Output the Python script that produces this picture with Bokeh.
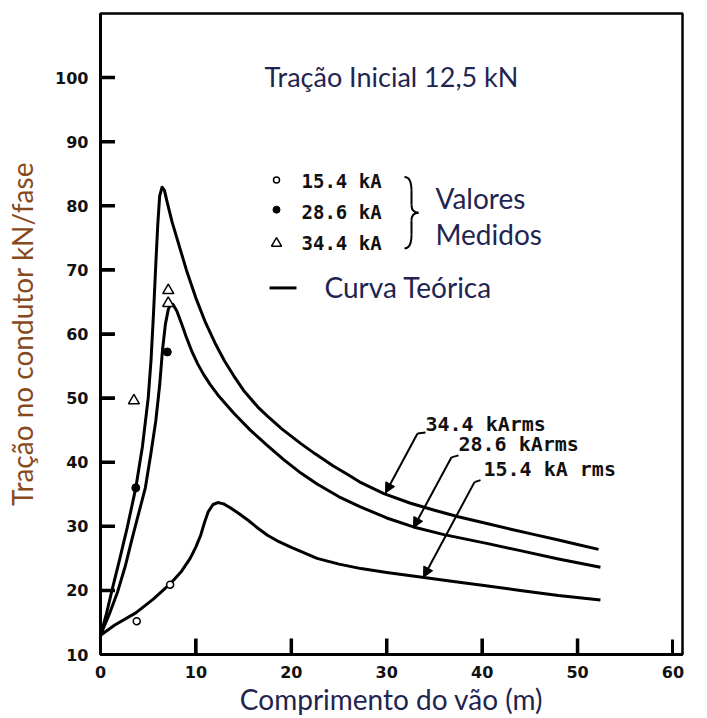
from bokeh.plotting import figure
from bokeh.models import Range1d, FixedTicker, Label, Arrow, NormalHead
from bokeh.embed import file_html
from bokeh.resources import INLINE

# ---- data ----
# theoretical curves: span (m) vs tension (kN/phase)
c344_x = [0, 0.6, 1.2, 2.0, 2.8, 3.7, 4.4, 5.0, 5.3, 5.55, 5.8, 6.0, 6.2, 6.45, 6.7, 7.0, 7.5, 8.0, 9.0, 10.0, 11.0, 12.0, 13.0, 14.0, 15.0, 16.5, 17.5, 19.0, 21.0, 22.5, 24.4, 26.0, 27.3, 29.7, 32.5, 35.0, 37.5, 40.6, 43.0, 45.5, 48.0, 50.0, 52.2]
c344_y = [13, 16.2, 20, 24.8, 29.8, 36, 42.5, 50, 56, 63, 71, 77, 81.5, 82.9, 82.4, 80.5, 77.5, 75, 70, 65.6, 61.8, 58.6, 55.8, 53.4, 51.2, 48.6, 47.2, 45.2, 42.9, 41.3, 39.4, 38.0, 36.8, 35.1, 33.6, 32.5, 31.5, 30.4, 29.55, 28.7, 27.85, 27.15, 26.4]

c286_x = [0, 0.9, 1.8, 2.6, 3.3, 4.0, 4.7, 5.3, 5.8, 6.2, 6.5, 6.8, 7.1, 7.35, 7.6, 8.0, 8.5, 9.0, 9.6, 10.2, 10.8, 11.5, 12.3, 14.0, 15.7, 17.5, 19.2, 21.0, 22.7, 25.0, 27.3, 30.0, 32.8, 36.0, 40.6, 44.0, 48.0, 52.4]
c286_y = [13, 16.2, 19.8, 23.8, 28, 32, 36, 41.5, 46.5, 52, 57.5, 61.5, 63.8, 64.7, 64.6, 63.6, 61.6, 59.5, 57.2, 55.3, 53.7, 52.1, 50.5, 47.6, 45.0, 42.6, 40.4, 38.3, 36.6, 34.6, 33.0, 31.3, 29.9, 28.7, 27.3, 26.2, 24.9, 23.6]

c154_x = [0, 1.5, 3.7, 5.5, 7.3, 8.5, 9.4, 10.0, 10.5, 10.9, 11.3, 11.8, 12.3, 12.9, 13.6, 14.5, 15.5, 16.5, 17.5, 18.7, 20.0, 22.7, 25.0, 27.3, 30.0, 33.9, 37.0, 40.0, 44.0, 48.0, 52.4]
c154_y = [13, 14.6, 16.5, 18.6, 21.0, 23.0, 25.0, 26.8, 28.6, 30.6, 32.3, 33.4, 33.7, 33.5, 32.9, 32.0, 30.9, 29.7, 28.6, 27.6, 26.7, 25.0, 24.1, 23.4, 22.8, 22.0, 21.4, 20.8, 20.0, 19.2, 18.5]

# measured values
m154_x = [3.8, 7.3]
m154_y = [15.2, 20.9]
m286_x = [3.7, 7.0]
m286_y = [36.0, 57.2]
m344_x = [3.5, 7.1, 7.1]
m344_y = [49.6, 66.8, 64.8]

x_ticks = [0, 10, 20, 30, 40, 50, 60]
y_ticks = [10, 20, 30, 40, 50, 60, 70, 80, 90, 100]

title_text = "Tração Inicial 12,5 kN"
legend_labels = ["15.4 kA", "28.6 kA", "34.4 kA"]
curve_labels = ["34.4 kArms", "28.6 kArms", "15.4 kA rms"]

# ---- layout helpers (pixel -> data) ----
X0, X1 = 0, 61
Y0, Y1 = 10, 110
FL, FR, FT, FB = 100, 682, 13, 660
def dx(px):
    return X0 + (px - FL) * (X1 - X0) / (FR - FL)
def dy(py):
    return Y0 + (FB - py) * (Y1 - Y0) / (FB - FT)

TXT = "#1f2550"
YLAB = "#874a1e"
SANS = "Lato"
MONO = "DejaVu Sans Mono"

p = figure(width=707, height=718, x_range=Range1d(X0, X1), y_range=Range1d(Y0, Y1),
           output_backend="svg", toolbar_location=None,
           min_border_left=FL, min_border_right=707 - FR, min_border_top=FT, min_border_bottom=718 - FB)
p.xgrid.visible = False
p.ygrid.visible = False
p.outline_line_color = "black"
p.outline_line_width = 2.5
p.background_fill_color = "white"
p.border_fill_color = "white"

p.xaxis.ticker = FixedTicker(ticks=x_ticks)
p.yaxis.ticker = FixedTicker(ticks=y_ticks)
for ax in (p.xaxis, p.yaxis):
    ax.axis_line_color = "black"
    ax.axis_line_width = 3
    ax.major_tick_line_color = "black"
    ax.major_tick_line_width = 3
    ax.major_tick_out = 0
    ax.minor_tick_line_color = None
    ax.major_label_text_font = "DejaVu Sans"
    ax.major_label_text_font_style = "bold"
    ax.major_label_text_font_size = "16px"
    ax.major_label_text_color = "#111111"
    ax.axis_label_text_font = SANS
    ax.axis_label_text_font_style = "normal"
p.xaxis.major_tick_in = 15
p.yaxis.major_tick_in = 14
p.xaxis.major_label_standoff = 11
p.yaxis.major_label_standoff = 12
p.xaxis.axis_label = "Comprimento do vão (m)"
p.yaxis.axis_label = "Tração no condutor kN/fase"
p.xaxis.axis_label_text_font_size = "28px"
p.yaxis.axis_label_text_font_size = "28px"
p.xaxis.axis_label_text_color = TXT
p.yaxis.axis_label_text_color = YLAB
p.xaxis.axis_label_standoff = 1
p.yaxis.axis_label_standoff = 13

# inward tick marks, one short line per tick value (drawn in the frame as well)
ytk = [t for t in y_ticks if Y0 < t < Y1]
xtk = [t for t in x_ticks if X0 < t < X1 - 2]
p.scatter(x=[dx(FL + 7)] * len(ytk), y=ytk, marker="dash", size=15, line_color="black", line_width=3.5)
p.scatter(x=xtk, y=[dy(FB - 8)] * len(xtk), marker="dash", angle=1.5708, size=16, line_color="black", line_width=3.5)

# curves
for xs, ys in ((c344_x, c344_y), (c286_x, c286_y), (c154_x, c154_y)):
    p.line(xs, ys, line_color="black", line_width=3, line_join="round")

# measured points
p.scatter(m154_x, m154_y, marker="circle", size=7, fill_color="white", line_color="black", line_width=1.5)
p.scatter(m286_x, m286_y, marker="circle", size=8, fill_color="black", line_color="black")
p.scatter(m344_x, m344_y, marker="triangle", size=11, fill_color="white", line_color="black", line_width=1.5)

# title text
p.add_layout(Label(x=dx(391), y=dy(77), text=title_text, text_align="center", text_baseline="middle",
                   text_font=SANS, text_font_size="27px", text_color=TXT))

# legend (manual)
lx = dx(276)
p.scatter([lx], [dy(181)], marker="circle", size=6, fill_color="white", line_color="black", line_width=1.5)
p.scatter([lx], [dy(211)], marker="circle", size=7, fill_color="black", line_color="black")
p.scatter([lx], [dy(245)], marker="triangle", size=10, fill_color="white", line_color="black", line_width=1.5)
p.line([dx(269), dx(296)], [dy(290), dy(290)], line_color="black", line_width=3)
for lab, py in zip(legend_labels, (182, 213, 245)):
    p.add_layout(Label(x=dx(301), y=dy(py), text=lab, text_align="left", text_baseline="middle",
                       text_font=MONO, text_font_style="bold", text_font_size="19px", text_color="#111111"))
p.add_layout(Label(x=dx(435), y=dy(199), text="Valores", text_align="left", text_baseline="middle",
                   text_font=SANS, text_font_size="28px", text_color=TXT))
p.add_layout(Label(x=dx(435), y=dy(236), text="Medidos", text_align="left", text_baseline="middle",
                   text_font=SANS, text_font_size="28px", text_color=TXT))
p.add_layout(Label(x=dx(324), y=dy(289), text="Curva Teórica", text_align="left", text_baseline="middle",
                   text_font=SANS, text_font_size="28px", text_color=TXT))

# brace
bz = [((404, 178), (409, 178), (411, 184), (411, 192)),
      ((411, 206), (411, 211), (413, 214), (418, 214)),
      ((418, 214), (413, 214), (411, 217), (411, 222)),
      ((411, 236), (411, 244), (409, 250), (404, 250))]
p.bezier(x0=[dx(b[0][0]) for b in bz], y0=[dy(b[0][1]) for b in bz],
         cx0=[dx(b[1][0]) for b in bz], cy0=[dy(b[1][1]) for b in bz],
         cx1=[dx(b[2][0]) for b in bz], cy1=[dy(b[2][1]) for b in bz],
         x1=[dx(b[3][0]) for b in bz], y1=[dy(b[3][1]) for b in bz],
         line_color="black", line_width=2)
p.segment(x0=[dx(411), dx(411)], y0=[dy(192), dy(222)], x1=[dx(411), dx(411)], y1=[dy(206), dy(236)],
          line_color="black", line_width=2)

# curve annotations with leader arrows
ann = [((425, 427), (425, 436), (417, 437), (385, 497)),
       ((458, 448), (458, 459), (451, 461), (413, 532)),
       ((483, 473), (480, 484), (474, 486), (423, 582))]
for lab, (tpos, a, b, tip) in zip(curve_labels, ann):
    p.add_layout(Label(x=dx(tpos[0]), y=dy(tpos[1]), text=lab, text_align="left", text_baseline="middle",
                       text_font=MONO, text_font_style="bold", text_font_size="20px", text_color="#111111"))
    p.line([dx(a[0]), dx(b[0])], [dy(a[1]), dy(b[1])], line_color="black", line_width=2)
    p.add_layout(Arrow(x_start=dx(b[0]), y_start=dy(b[1]), x_end=dx(tip[0]), y_end=dy(tip[1]),
                       line_color="black", line_width=2,
                       end=NormalHead(size=10, fill_color="black", line_color="black")))

open("out.html", "w").write(file_html(p, INLINE))
